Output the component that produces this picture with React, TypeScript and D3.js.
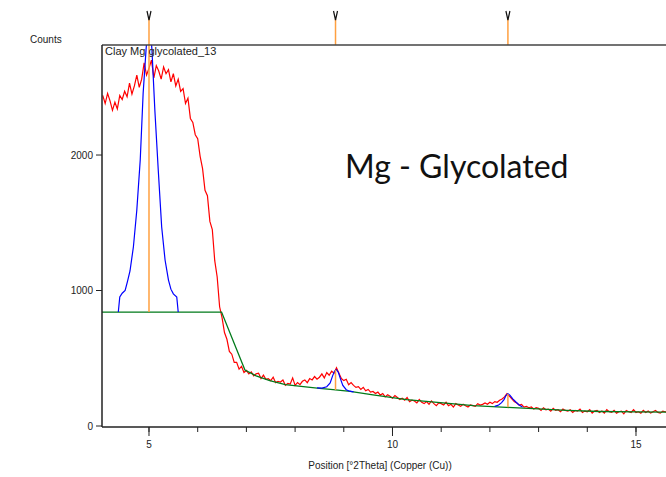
import React from 'react';
import { scaleLinear, line } from 'd3';

const width = 666;
const height = 477;

// measured scan: [°2Theta, counts]
const scan: [number, number][] = [
  [4.05, 2440], [4.10, 2380], [4.15, 2455], [4.20, 2400], [4.25, 2330], [4.30, 2390], [4.35, 2340],
  [4.40, 2440], [4.45, 2410], [4.50, 2470], [4.55, 2430], [4.60, 2530], [4.65, 2450], [4.70, 2510],
  [4.75, 2590], [4.80, 2500], [4.85, 2560], [4.90, 2680], [4.95, 2590], [5.00, 2640], [5.05, 2700],
  [5.10, 2570], [5.15, 2660], [5.20, 2620], [5.25, 2560], [5.30, 2650], [5.35, 2600], [5.40, 2630],
  [5.45, 2540], [5.50, 2600], [5.55, 2510], [5.60, 2560], [5.65, 2470], [5.70, 2490], [5.75, 2380],
  [5.80, 2420], [5.85, 2270], [5.90, 2240], [5.95, 2150], [6.00, 2120], [6.05, 1990], [6.10, 1900],
  [6.15, 1740], [6.20, 1700], [6.25, 1510], [6.30, 1450], [6.35, 1220], [6.40, 1100], [6.45, 880],
  [6.50, 800], [6.55, 690], [6.60, 640], [6.65, 550], [6.70, 530], [6.75, 470], [6.80, 470],
  [6.85, 420], [6.90, 440], [6.95, 395], [7.00, 410], [7.05, 385], [7.10, 400], [7.15, 370],
  [7.20, 385], [7.25, 390], [7.30, 350], [7.35, 375], [7.40, 345], [7.45, 350], [7.50, 335],
  [7.55, 360], [7.60, 320], [7.65, 330], [7.70, 325], [7.75, 340], [7.80, 300], [7.85, 315],
  [7.90, 310], [7.95, 355], [8.00, 300], [8.05, 320], [8.10, 305], [8.15, 330], [8.20, 340],
  [8.25, 320], [8.30, 350], [8.35, 340], [8.40, 365], [8.45, 345], [8.50, 360], [8.55, 385],
  [8.60, 355], [8.65, 395], [8.70, 375], [8.75, 405], [8.80, 390], [8.85, 430], [8.90, 390],
  [8.95, 350], [9.00, 335], [9.05, 345], [9.10, 305], [9.15, 320], [9.20, 300], [9.25, 285],
  [9.30, 290], [9.35, 270], [9.40, 285], [9.45, 260], [9.50, 270], [9.55, 250], [9.60, 255],
  [9.65, 240], [9.70, 250], [9.75, 228], [9.80, 240], [9.85, 215], [9.90, 230], [9.95, 220],
  [10.00, 205], [10.05, 225], [10.10, 210], [10.15, 195], [10.20, 205], [10.25, 190], [10.30, 210],
  [10.35, 180], [10.40, 190], [10.45, 185], [10.50, 170], [10.55, 195], [10.60, 175], [10.65, 165],
  [10.70, 180], [10.75, 160], [10.80, 185], [10.85, 165], [10.90, 150], [10.95, 170], [11.00, 165],
  [11.05, 155], [11.10, 175], [11.15, 150], [11.20, 160], [11.25, 140], [11.30, 165], [11.35, 155],
  [11.40, 145], [11.45, 160], [11.50, 150], [11.55, 140], [11.60, 155], [11.65, 150], [11.70, 145],
  [11.75, 165], [11.80, 155], [11.85, 160], [11.90, 170], [11.95, 160], [12.00, 175], [12.05, 165],
  [12.10, 180], [12.15, 175], [12.20, 190], [12.25, 200], [12.30, 215], [12.35, 238], [12.40, 220],
  [12.45, 200], [12.50, 180], [12.55, 170], [12.60, 155], [12.65, 160], [12.70, 140], [12.75, 145],
  [12.80, 135], [12.85, 140], [12.90, 125], [12.95, 135], [13.00, 130], [13.05, 115], [13.10, 135],
  [13.15, 120], [13.20, 125], [13.25, 110], [13.30, 130], [13.35, 115], [13.40, 120], [13.45, 105],
  [13.50, 125], [13.55, 115], [13.60, 110], [13.65, 120], [13.70, 100], [13.75, 115], [13.80, 110],
  [13.85, 125], [13.90, 100], [13.95, 110], [14.00, 105], [14.05, 120], [14.10, 95], [14.15, 110],
  [14.20, 115], [14.25, 100], [14.30, 110], [14.35, 95], [14.40, 120], [14.45, 105], [14.50, 100],
  [14.55, 115], [14.60, 95], [14.65, 105], [14.70, 110], [14.75, 90], [14.80, 115], [14.85, 105],
  [14.90, 100], [14.95, 120], [15.00, 100], [15.05, 105], [15.10, 95], [15.15, 115], [15.20, 100],
  [15.25, 110], [15.30, 95], [15.35, 105], [15.40, 115], [15.45, 100], [15.50, 95], [15.55, 110],
  [15.60, 105], [15.65, 100],
];

// background
const background: [number, number][] = [
  [4.0, 841], [6.49, 841], [6.97, 413], [7.2, 370], [7.48, 335], [7.8, 305], [8.17, 290], [8.5, 278],
  [8.78, 268], [9.13, 255], [9.6, 229], [10.29, 195], [10.98, 172], [11.66, 150], [12.34, 138],
  [12.89, 128], [13.58, 115], [14.26, 107], [15.0, 104], [15.7, 103],
];

// fitted profiles
const profile1: [number, number][] = [
  [4.37, 841], [4.40, 952], [4.45, 980], [4.51, 1000], [4.56, 1070], [4.61, 1144], [4.68, 1323],
  [4.75, 1594], [4.82, 1963], [4.88, 2458], [4.94, 2780], [5.0, 3050], [5.06, 2780], [5.12, 2332],
  [5.19, 1889], [5.26, 1471], [5.33, 1225], [5.40, 1077], [5.45, 1010], [5.50, 975], [5.57, 952],
  [5.60, 841],
];
const profile2: [number, number][] = [
  [8.45, 282], [8.55, 280], [8.65, 290], [8.72, 318], [8.77, 370], [8.81, 405], [8.85, 415],
  [8.89, 395], [8.93, 350], [8.98, 300], [9.05, 268], [9.12, 257], [9.2, 252],
];
const profile3: [number, number][] = [
  [12.10, 145], [12.18, 155], [12.24, 172], [12.29, 195], [12.33, 225], [12.37, 238], [12.41, 228],
  [12.47, 200], [12.54, 175], [12.6, 155], [12.67, 140],
];

// peak positions and sticks: [°2Theta, base, top]
const peaks: [number, number, number][] = [
  [5.0, 841, 3050],
  [8.83, 266, 413],
  [12.37, 138, 236],
];

const majorTicksX = [5, 10, 15];
const minorTicksX = [5, 6, 7, 8, 9, 10, 11, 12, 13, 14, 15];
const ticksY = [0, 1000, 2000];

const sampleName = 'Clay Mg glycolated_13';
const treatment = 'Mg - Glycolated';

export default function App() {
  const left = 102;
  const top = 45;
  const bottom = 426;

  const x = scaleLinear().domain([4.035, 15.7]).range([left, left + 11.665 * 48.7]);
  const y = scaleLinear().domain([0, 2812]).range([bottom, top]);

  const path = line<[number, number]>()
    .x(d => x(d[0]))
    .y(d => y(d[1]));

  const font = 'Liberation Sans, Arial, sans-serif';

  return (
    <svg width={width} height={height} style={{ position: 'absolute', left: 0, top: 0 }}>
      <rect width={width} height={height} fill="#fff" />
      <defs>
        <clipPath id="plot">
          <rect x={left} y={top} width={width - left} height={bottom - top + 1} />
        </clipPath>
      </defs>

      {/* peak markers above the frame */}
      {peaks.map(p => (
        <g key={'m' + p[0]}>
          <line x1={x(p[0])} x2={x(p[0])} y1={19} y2={top} stroke="#ffa040" strokeWidth={1.5} />
          <path
            d={`M${x(p[0]) - 2},11 L${x(p[0])},20 L${x(p[0]) + 2},11`}
            fill="none"
            stroke="#111"
            strokeWidth={1.2}
          />
        </g>
      ))}

      <g clipPath="url(#plot)">
        <path d={path(scan) || ''} fill="none" stroke="#ff0000" strokeWidth={1.2} />
        <path d={path(background) || ''} fill="none" stroke="#007a1a" strokeWidth={1.3} />
        {[profile1, profile2, profile3].map((p, i) => (
          <path key={i} d={path(p) || ''} fill="none" stroke="#0000ff" strokeWidth={1.2} />
        ))}
        {peaks.map(p => (
          <line
            key={'s' + p[0]}
            x1={x(p[0])}
            x2={x(p[0])}
            y1={y(p[1])}
            y2={y(p[2])}
            stroke="#ffa040"
            strokeWidth={1.5}
          />
        ))}
      </g>

      {/* frame */}
      <line x1={left} x2={width} y1={top} y2={top} stroke="#444" strokeWidth={1.5} />
      <line x1={left} x2={left} y1={top} y2={bottom + 1} stroke="#222" strokeWidth={1.5} />
      <line x1={left} x2={width} y1={bottom + 1} y2={bottom + 1} stroke="#222" strokeWidth={1.5} />

      {/* x axis */}
      {minorTicksX.map(t => (
        <line key={'n' + t} x1={x(t)} x2={x(t)} y1={bottom + 1} y2={bottom + 6} stroke="#222" />
      ))}
      {majorTicksX.map(t => (
        <g key={'x' + t}>
          <line x1={x(t)} x2={x(t)} y1={bottom + 1} y2={bottom + 10} stroke="#222" />
          <text x={x(t)} y={448} fontSize={10} fontFamily={font} textAnchor="middle" fill="#222">
            {t}
          </text>
        </g>
      ))}
      <text x={380} y={469} fontSize={10} fontFamily={font} textAnchor="middle" fill="#222">
        Position [°2Theta] (Copper (Cu))
      </text>

      {/* y axis */}
      {ticksY.map(t => (
        <g key={'y' + t}>
          <line x1={left - 6} x2={left} y1={y(t)} y2={y(t)} stroke="#222" />
          <text x={left - 9} y={y(t) + 3.5} fontSize={10} fontFamily={font} textAnchor="end" fill="#222">
            {t}
          </text>
        </g>
      ))}
      <text x={30} y={43} fontSize={10} fontFamily={font} fill="#222">
        Counts
      </text>

      <text x={105} y={55} fontSize={11} fontFamily={font} fill="#222">
        {sampleName}
      </text>
      <text x={345} y={178} fontSize={32} fontFamily="Lato, Carlito, sans-serif" fill="#111">
        {treatment}
      </text>
    </svg>
  );
}
